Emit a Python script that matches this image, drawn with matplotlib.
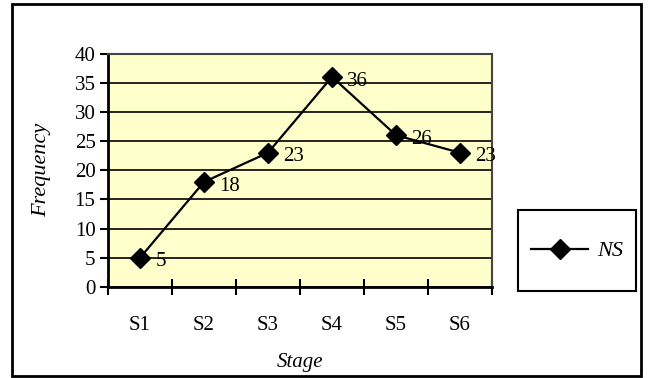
import matplotlib
matplotlib.use("Agg")
import matplotlib.pyplot as plt
from matplotlib.patches import Rectangle
from matplotlib.lines import Line2D

stages = ["S1", "S2", "S3", "S4", "S5", "S6"]
values = [5, 18, 23, 36, 26, 23]
yticks = [0, 5, 10, 15, 20, 25, 30, 35, 40]
series_name = "NS"

plt.rcParams['font.family'] = ['Liberation Serif', 'DejaVu Serif']

W, H = 650, 378
FS = 15
fig = plt.figure(figsize=(6.5, 3.78), dpi=100)

# outer border
fig.patches.append(Rectangle((12 / W, 1 - 376 / H), (641 - 12) / W, (376 - 4) / H,
                             transform=fig.transFigure, fill=False, edgecolor='black',
                             linewidth=2.0, zorder=0))

ax = fig.add_axes([108 / W, 1 - 287 / H, (492 - 108) / W, (287 - 53.5) / H])
ax.set_facecolor('#FFFFCC')

x = list(range(len(stages)))
ax.plot(x, values, color='black', linewidth=1.6, marker='D', markersize=10,
        markerfacecolor='black', markeredgecolor='black', zorder=3, clip_on=False)
for xi, v in zip(x, values):
    ax.annotate(str(v), (xi, v), xytext=(11, -3), textcoords='offset points',
                ha='left', va='center', fontsize=FS, zorder=4)

ax.set_xlim(-0.5, len(stages) - 0.5)
ax.set_ylim(0, 40)
ax.set_yticks(yticks)
ax.set_yticklabels([str(t) for t in yticks], fontsize=FS)
ax.yaxis.grid(True, color='black', linewidth=1.2)
ax.set_axisbelow(True)
ax.tick_params(axis='y', direction='out', length=6, width=1.5, pad=3)

# category boundaries as x ticks
ax.set_xticks([i - 0.5 for i in range(len(stages) + 1)], minor=False)
ax.set_xticklabels([])
ax.set_xticks(x, minor=True)
ax.set_xticklabels(stages, minor=True, fontsize=FS)
ax.tick_params(axis='x', which='major', direction='inout', length=12, width=1.5)
ax.tick_params(axis='x', which='minor', length=0, pad=21)

for s in ['left', 'bottom']:
    ax.spines[s].set_linewidth(2.0)
    ax.spines[s].set_color('black')
for s in ['top', 'right']:
    ax.spines[s].set_linewidth(1.5)
    ax.spines[s].set_color('#444444')

ax.set_ylabel("Frequency", fontsize=FS + 1, style='italic', labelpad=17)
ax.set_xlabel("Stage", fontsize=FS, style='italic', labelpad=13)

# legend box
fig.patches.append(Rectangle((518 / W, 1 - 291 / H), (636 - 518) / W, (291 - 210) / H,
                             transform=fig.transFigure, fill=False, edgecolor='black',
                             linewidth=1.5, zorder=1))
handle = Line2D([], [], color='black', linewidth=1.6, marker='D', markersize=10,
                markerfacecolor='black')
leg = fig.legend([handle], [series_name], loc='center',
                 bbox_to_anchor=(577 / W, 1 - 251 / H), frameon=False,
                 prop={'style': 'italic', 'size': FS + 1},
                 handlelength=2.6, handletextpad=0.4, borderaxespad=0)

fig.savefig("out.png", dpi=100)
